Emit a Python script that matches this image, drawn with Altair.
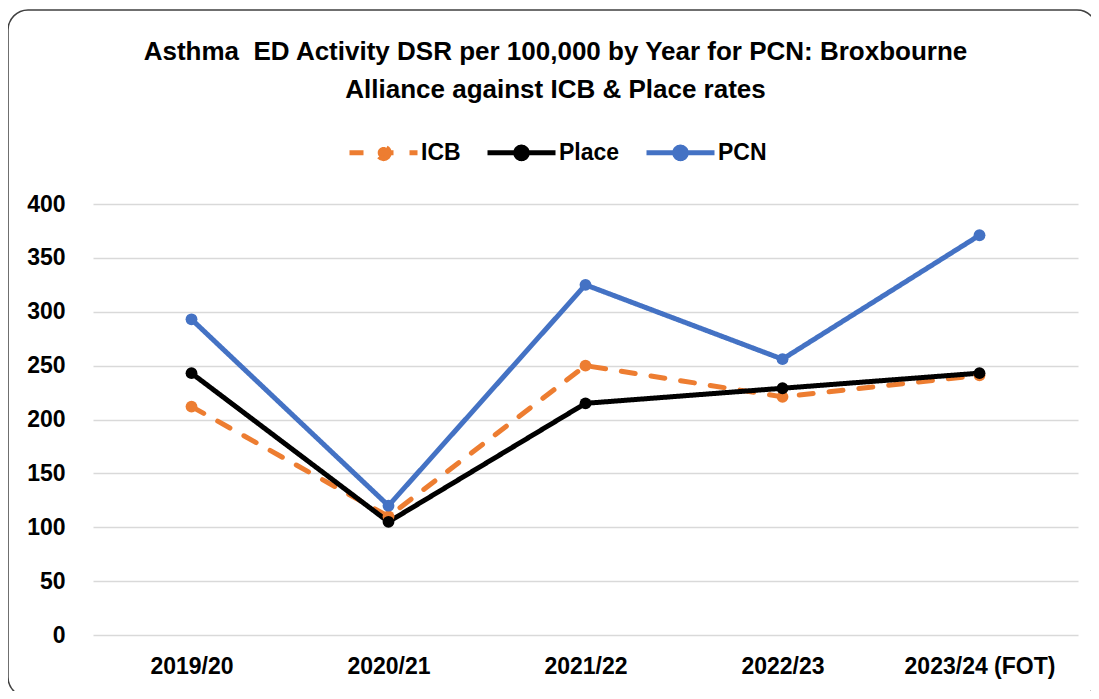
import altair as alt
import pandas as pd

years = ["2019/20", "2020/21", "2021/22", "2022/23", "2023/24 (FOT)"]
icb = [212, 110, 250, 221, 241]
place = [243, 105, 215, 229, 243]
pcn = [293, 120, 325, 256, 371]
series = ["ICB", "Place", "PCN"]
colors = ["#ED7D31", "#000000", "#4472C4"]
title_lines = ["Asthma\u00a0 ED Activity DSR per 100,000 by Year for PCN: Broxbourne",
               "Alliance against ICB & Place rates"]

rows = []
for s, vals in zip(series, [icb, place, pcn]):
    for i, (y, v) in enumerate(zip(years, vals)):
        rows.append({"year": y, "value": v, "series": s, "order": i})
df = pd.DataFrame(rows)

FONT = "Liberation Sans"
sym_path = "M-1,0L1,0M0.17,0A0.17,0.17,0,1,1,-0.17,0A0.17,0.17,0,1,1,0.17,0Z"

base = alt.Chart(df)

lines = base.mark_line(strokeWidth=5, strokeCap="round", strokeJoin="round").encode(
    x=alt.X("year:N", sort=years, title=None,
            axis=alt.Axis(labelAngle=0, domain=False, ticks=False, grid=False,
                          labelFont=FONT, labelFontSize=23, labelFontWeight="bold",
                          labelColor="#000000", labelPadding=20)),
    y=alt.Y("value:Q", title=None, scale=alt.Scale(domain=[0, 400], nice=False),
            axis=alt.Axis(values=list(range(0, 401, 50)), domain=False, ticks=False,
                          gridColor="#D9D9D9", gridWidth=1.6,
                          labelFont=FONT, labelFontSize=23, labelFontWeight="bold",
                          labelColor="#000000", labelPadding=28)),
    color=alt.Color("series:N", sort=series, title=None,
                    scale=alt.Scale(domain=series, range=colors),
                    legend=alt.Legend(orient="none", legendX=254, legendY=-88,
                                      direction="horizontal", symbolType=sym_path,
                                      symbolSize=4624, symbolStrokeWidth=5,
                                      labelFont=FONT, labelFontSize=23,
                                      labelFontWeight="bold", labelColor="#000000",
                                      labelOffset=1, columnPadding=16, padding=0)),
    strokeDash=alt.StrokeDash("series:N", sort=series, title=None,
                              scale=alt.Scale(domain=series,
                                              range=[[14, 16], [1, 0], [1, 0]]),
                              legend=alt.Legend(orient="none", legendX=254, legendY=-88,
                                                direction="horizontal")),
    order="order:Q",
)

points = base.mark_circle(size=140, opacity=1).encode(
    x=alt.X("year:N", sort=years),
    y=alt.Y("value:Q"),
    color=alt.Color("series:N", sort=series, scale=alt.Scale(domain=series, range=colors)),
)

border = alt.Chart(pd.DataFrame({"a": [0]})).mark_rect(
    fill=None, stroke="#404040", strokeWidth=1.5, cornerRadius=20
).encode(x=alt.value(-85), x2=alt.value(1004), y=alt.value(-194), y2=alt.value(493))

chart = alt.layer(border, lines, points).properties(
    width=985, height=431,
    title=alt.TitleParams(title_lines, anchor="middle", dx=-30, dy=106, offset=12,
                          font=FONT, fontSize=26, fontWeight="bold", color="#000000",
                          lineHeight=38, frame="group"),
    autosize=alt.AutoSizeParams(type="none"),
    padding={"left": 85, "top": 196, "right": 13, "bottom": 56},
).configure_view(stroke=None)

chart.save("out.html", embed_options={"renderer": "svg", "actions": False})
